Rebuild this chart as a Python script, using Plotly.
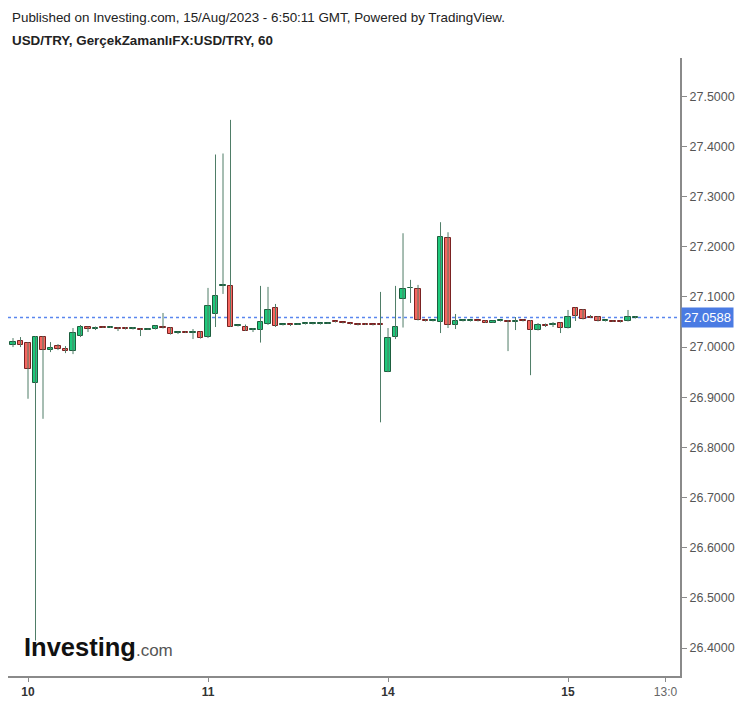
import plotly.graph_objects as go

# ---- data (hourly USD/TRY candles, 9 Aug late -> 15 Aug 09:00) ----
hours = list(range(84))
open_ = [27.004, 27.012, 27.008, 26.928, 27.020, 26.994, 27.002, 26.996, 26.992, 27.022,
         27.040, 27.037, 27.040, 27.039, 27.039, 27.039, 27.036, 27.036, 27.035, 27.036,
         27.040, 27.038, 27.028, 27.030, 27.028, 27.030, 27.020, 27.066, 27.121, 27.122,
         27.042, 27.041, 27.034, 27.034, 27.046, 27.078, 27.044, 27.045, 27.045, 27.046,
         27.046, 27.046, 27.047, 27.051, 27.049, 27.047, 27.046, 27.046, 27.045, 27.045,
         26.951, 27.020, 27.095, 27.117, 27.115, 27.053, 27.052, 27.050, 27.217, 27.044,
         27.052, 27.052, 27.053, 27.052, 27.049, 27.052, 27.052, 27.050, 27.053, 27.052,
         27.034, 27.044, 27.045, 27.048, 27.038, 27.078, 27.074, 27.060, 27.060, 27.052,
         27.052, 27.052, 27.052, 27.058]
high = [27.018, 27.020, 27.010, 27.022, 27.022, 27.010, 27.006, 27.002, 27.038, 27.044,
        27.041, 27.041, 27.041, 27.041, 27.040, 27.040, 27.040, 27.037, 27.037, 27.043,
        27.068, 27.039, 27.031, 27.031, 27.036, 27.031, 27.118, 27.384, 27.386, 27.453,
        27.044, 27.045, 27.038, 27.122, 27.120, 27.086, 27.046, 27.046, 27.047, 27.048,
        27.048, 27.048, 27.049, 27.052, 27.050, 27.048, 27.047, 27.047, 27.046, 27.110,
        27.038, 27.122, 27.227, 27.134, 27.124, 27.055, 27.054, 27.249, 27.229, 27.066,
        27.055, 27.054, 27.054, 27.053, 27.053, 27.054, 27.054, 27.060, 27.055, 27.054,
        27.048, 27.047, 27.050, 27.049, 27.074, 27.079, 27.076, 27.064, 27.062, 27.054,
        27.053, 27.053, 27.074, 27.061]
low = [27.000, 27.000, 26.897, 26.415, 26.857, 26.990, 26.994, 26.988, 26.986, 27.020,
       27.030, 27.034, 27.038, 27.038, 27.032, 27.035, 27.035, 27.022, 27.034, 27.035,
       27.037, 27.025, 27.026, 27.028, 27.016, 27.017, 27.018, 27.040, 27.106, 27.040,
       27.041, 27.032, 27.030, 27.009, 27.044, 27.040, 27.043, 27.042, 27.044, 27.045,
       27.045, 27.045, 27.046, 27.049, 27.047, 27.045, 27.043, 27.044, 27.043, 26.850,
       26.950, 27.016, 27.039, 27.088, 27.053, 27.051, 27.051, 27.028, 27.038, 27.036,
       27.051, 27.051, 27.051, 27.048, 27.048, 27.051, 26.992, 27.034, 27.051, 26.944,
       27.033, 27.040, 27.040, 27.028, 27.037, 27.052, 27.055, 27.058, 27.051, 27.051,
       27.050, 27.049, 27.051, 27.057]
close = [27.010, 27.004, 26.956, 27.020, 26.994, 26.998, 26.996, 26.992, 27.028, 27.040,
         27.036, 27.039, 27.039, 27.040, 27.037, 27.036, 27.039, 27.035, 27.036, 27.042,
         27.038, 27.027, 27.029, 27.029, 27.029, 27.018, 27.082, 27.101, 27.123, 27.040,
         27.043, 27.033, 27.036, 27.050, 27.074, 27.043, 27.045, 27.044, 27.046, 27.047,
         27.047, 27.047, 27.048, 27.050, 27.048, 27.046, 27.044, 27.045, 27.044, 27.044,
         27.019, 27.040, 27.115, 27.118, 27.054, 27.052, 27.053, 27.219, 27.044, 27.052,
         27.053, 27.053, 27.052, 27.049, 27.052, 27.053, 27.050, 27.052, 27.052, 27.034,
         27.044, 27.043, 27.047, 27.038, 27.060, 27.062, 27.056, 27.059, 27.052, 27.053,
         27.051, 27.050, 27.060, 27.0588]
last_price = 27.0588
tick_hours = [2, 26, 50, 74, 87]
tick_labels = ["<b>10</b>", "<b>11</b>", "<b>14</b>", "<b>15</b>",
               "<span style='color:#666'>13:0</span>"]
y_ticks = [26.4, 26.5, 26.6, 26.7, 26.8, 26.9, 27.0, 27.1, 27.2, 27.3, 27.4, 27.5]

# ---- styles ----
UP_FILL, UP_LINE = "#1ec97b", "#1d5e3e"
DN_FILL, DN_LINE = "#f5665f", "#7a2222"
WICK = "#4f7d67"
FONT = "Liberation Sans, Arial, sans-serif"

# wicks
wx, wy = [], []
for h, lo, hi in zip(hours, low, high):
    wx += [h, h, None]
    wy += [lo, hi, None]

up = [c >= o for o, c in zip(open_, close)]
base = [min(o, c) for o, c in zip(open_, close)]
height = [max(abs(c - o), 0.0016) for o, c in zip(open_, close)]

fig = go.Figure()
fig.add_trace(go.Scatter(x=wx, y=wy, mode="lines", line=dict(color=WICK, width=1),
                         hoverinfo="skip", showlegend=False))
fig.add_trace(go.Bar(x=hours, y=height, base=base, width=0.68,
                     marker=dict(color=[UP_FILL if u else DN_FILL for u in up],
                                 line=dict(color=[UP_LINE if u else DN_LINE for u in up], width=1)),
                     showlegend=False))

L, R, T, B = 8, 67, 58, 28
fig.update_layout(
    width=747, height=707,
    margin=dict(l=L, r=R, t=T, b=B),
    paper_bgcolor="white", plot_bgcolor="white",
    barmode="overlay", bargap=0,
    font=dict(family=FONT, size=12, color="#222"),
    showlegend=False,
)
fig.update_xaxes(range=[-0.667, 88.93], tickvals=tick_hours, ticktext=tick_labels,
                 showgrid=False, zeroline=False, showline=True, linecolor="#8a8a8a", linewidth=2,
                 ticks="outside", ticklen=4, tickcolor="#8a8a8a",
                 tickfont=dict(size=12, color="#333", family=FONT))
fig.update_yaxes(side="right", range=[26.3442, 27.5764], tickvals=y_ticks, tickformat=".4f",
                 showgrid=False, zeroline=False, showline=True, linecolor="#8a8a8a", linewidth=2,
                 ticks="outside", ticklen=5, tickcolor="#8a8a8a",
                 tickfont=dict(size=12.5, color="#555", family=FONT))

# last price dotted line and label
fig.add_shape(type="line", xref="paper", yref="y", x0=0, x1=1, y0=last_price, y1=last_price,
              line=dict(color="#5a86ee", width=1.5, dash="dot"), layer="below")
fig.add_annotation(xref="paper", yref="y", x=1, y=last_price, xanchor="left", yanchor="middle",
                   xshift=1, text="27.0588", showarrow=False, bgcolor="#4a7be3",
                   font=dict(color="white", size=13, family=FONT), borderpad=2)

# header
fig.add_annotation(xref="paper", yref="paper", x=(10 - L)/672, y=1 + (T - 17)/621,
                   xanchor="left", yanchor="middle", showarrow=False,
                   text="Published on Investing.com, 15/Aug/2023 - 6:50:11 GMT, Powered by TradingView.",
                   font=dict(size=13.4, color="#222", family=FONT))
fig.add_annotation(xref="paper", yref="paper", x=(10 - L)/672, y=1 + (T - 40)/621,
                   xanchor="left", yanchor="middle", showarrow=False,
                   text="<b>USD/TRY, GerçekZamanlıFX:USD/TRY, 60</b>",
                   font=dict(size=13.4, color="#222", family=FONT))

# logo
fig.add_annotation(xref="paper", yref="paper", x=(22 - L)/672, y=(679 - 650)/621,
                   xanchor="left", yanchor="middle", showarrow=False,
                   text="<b>Investing</b><span style='font-size:17px;color:#555'>.com</span>",
                   font=dict(size=25.5, color="#111", family=FONT))

fig.write_html("out.html")
